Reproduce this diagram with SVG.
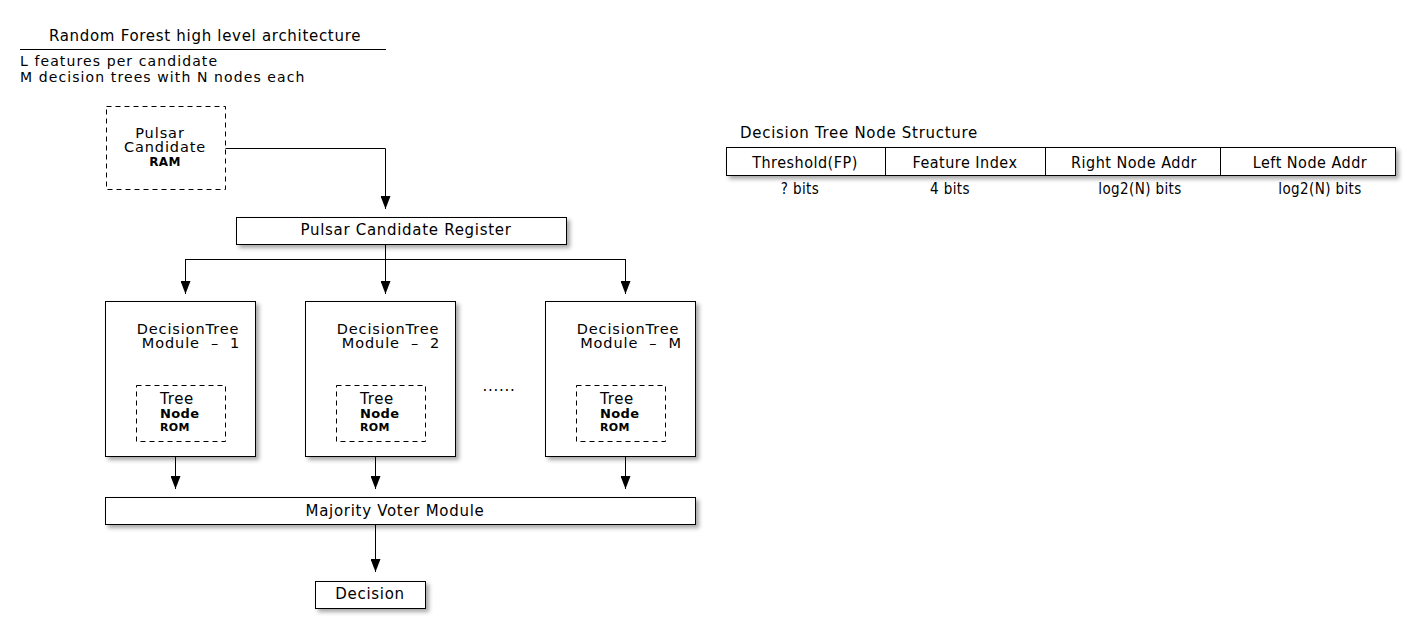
<svg xmlns="http://www.w3.org/2000/svg" width="1420" height="644" viewBox="0 0 1420 644">
<style>
text{font-family:"DejaVu Sans","Liberation Sans",sans-serif;font-size:15px;letter-spacing:0.7px;fill:#000;text-anchor:middle}
.l{text-anchor:start}
.box{fill:#fff;stroke:#000;stroke-width:1;filter:url(#sh)}
.dash{fill:#fff;stroke:#000;stroke-width:1;stroke-dasharray:5,4}
.b{font-weight:bold;letter-spacing:0.4px}
.s11{font-size:11px}
.s12{font-size:12px}
.s13{font-size:13px}
.m{font-size:14.5px;letter-spacing:0.9px}
.h{font-size:14px;letter-spacing:1.1px}
.c{font-family:"DejaVu Sans Condensed","DejaVu Sans","Liberation Sans Narrow",sans-serif;font-size:16px;letter-spacing:0.5px}
.c2{font-family:"DejaVu Sans Condensed","DejaVu Sans","Liberation Sans Narrow",sans-serif;font-size:15px;letter-spacing:0.4px}
.ln{fill:none;stroke:#000;stroke-width:1}
</style>
<defs>
<filter id="sh" x="-10%" y="-10%" width="130%" height="140%">
<feDropShadow dx="3" dy="3" stdDeviation="2" flood-color="#000" flood-opacity="0.35"/>
</filter>
<marker id="ah" viewBox="0 0 13 10" refX="13" refY="5" markerWidth="13" markerHeight="10" markerUnits="userSpaceOnUse" orient="auto">
<path d="M0,0 L13,5 L0,10 Z" fill="#000"/>
</marker>
</defs>
<rect width="1420" height="644" fill="#fff"/>

<g id="header">
<text x="205" y="41">Random Forest high level architecture</text>
<line x1="20" y1="49.5" x2="386" y2="49.5" stroke="#000"/>
<text class="l h" x="20" y="66">L features per candidate</text>
<text class="l h" x="20" y="82">M decision trees with N nodes each</text>
</g>

<g id="connectors">
<path class="ln" d="M225,148.5 H385.5 V209" marker-end="url(#ah)"/>
<path class="ln" d="M385.5,245 V259"/>
<path class="ln" d="M185.5,259.5 H625.5"/>
<path class="ln" d="M385.5,259 V294" marker-end="url(#ah)"/>
<path class="ln" d="M185.5,259 V294" marker-end="url(#ah)"/>
<path class="ln" d="M625.5,259 V294" marker-end="url(#ah)"/>
<path class="ln" d="M175.5,456 V489" marker-end="url(#ah)"/>
<path class="ln" d="M375.5,456 V489" marker-end="url(#ah)"/>
<path class="ln" d="M625.5,456 V489" marker-end="url(#ah)"/>
<path class="ln" d="M375.5,524 V572" marker-end="url(#ah)"/>
</g>

<g id="ram">
<rect class="dash" x="106.5" y="106.5" width="119" height="83"/>
<text class="m" x="160" y="138">Pulsar</text>
<text class="m" x="165" y="152">Candidate</text>
<text class="b s12" x="165" y="166">RAM</text>
</g>

<g id="register">
<rect class="box" x="236.5" y="217.5" width="330" height="27"/>
<text x="406" y="235">Pulsar Candidate Register</text>
</g>

<g id="module1">
<rect class="box" x="105.5" y="301.5" width="150" height="155"/>
<text class="m" x="188" y="334">DecisionTree</text>
<text class="m" x="191" y="348" xml:space="preserve">Module  –  1</text>
<rect class="dash" x="136.5" y="385.5" width="89" height="56"/>
<text class="l" x="160" y="404">Tree</text>
<text class="l b s13" x="160" y="418">Node</text>
<text class="l b s11" x="160" y="431">ROM</text>
</g>

<g id="module2">
<rect class="box" x="305.5" y="301.5" width="150" height="155"/>
<text class="m" x="388" y="334">DecisionTree</text>
<text class="m" x="391" y="348" xml:space="preserve">Module  –  2</text>
<rect class="dash" x="336.5" y="385.5" width="89" height="56"/>
<text class="l" x="360" y="404">Tree</text>
<text class="l b s13" x="360" y="418">Node</text>
<text class="l b s11" x="360" y="431">ROM</text>
</g>

<g id="dots">
<text x="499" y="391">......</text>
</g>

<g id="moduleM">
<rect class="box" x="545.5" y="301.5" width="150" height="155"/>
<text class="m" x="628" y="334">DecisionTree</text>
<text class="m" x="631" y="348" xml:space="preserve">Module  –  M</text>
<rect class="dash" x="576.5" y="385.5" width="89" height="56"/>
<text class="l" x="600" y="404">Tree</text>
<text class="l b s13" x="600" y="418">Node</text>
<text class="l b s11" x="600" y="431">ROM</text>
</g>

<g id="voter">
<rect class="box" x="105.5" y="497.5" width="590" height="27"/>
<text x="395" y="516">Majority Voter Module</text>
</g>

<g id="decision">
<rect class="box" x="315.5" y="581.5" width="110" height="27"/>
<text x="370" y="599">Decision</text>
</g>

<g id="nodestructure">
<text class="l" x="740" y="138">Decision Tree Node Structure</text>
<rect class="box" x="726.5" y="147.5" width="669" height="28"/>
<line x1="885.5" y1="147.5" x2="885.5" y2="175.5" stroke="#000"/>
<line x1="1045.5" y1="147.5" x2="1045.5" y2="175.5" stroke="#000"/>
<line x1="1220.5" y1="147.5" x2="1220.5" y2="175.5" stroke="#000"/>
<text class="c" x="805" y="168">Threshold(FP)</text>
<text class="c" x="965" y="168">Feature Index</text>
<text class="c" x="1134" y="168">Right Node Addr</text>
<text class="c" x="1310" y="168">Left Node Addr</text>
<text class="c2" x="800" y="194">? bits</text>
<text class="c2" x="950" y="194">4 bits</text>
<text class="c2" x="1140" y="194">log2(N) bits</text>
<text class="c2" x="1320" y="194">log2(N) bits</text>
</g>
</svg>
